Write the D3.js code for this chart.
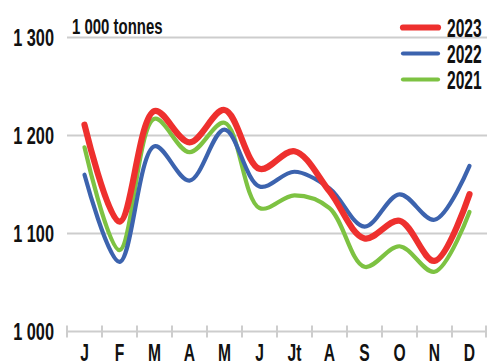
<!DOCTYPE html>
<html>
<head>
<meta charset="utf-8">
<script src="https://cdn.jsdelivr.net/npm/d3@7"></script>
<style>
  html, body { margin: 0; padding: 0; background: #fff; }
  svg { display: block; }
  text { font-family: "Liberation Sans", Arial, sans-serif; font-weight: bold; fill: #111; }
</style>
</head>
<body>
<svg id="chart" width="487" height="362"></svg>
<script>
// Monthly volumes, thousand tonnes
const months = ["J", "F", "M", "A", "M", "J", "Jt", "A", "S", "O", "N", "D"];
const yTicks = [1000, 1100, 1200, 1300];
const values2023 = [1211, 1112, 1225, 1193, 1226, 1166, 1184, 1143, 1095, 1113, 1072, 1140];
const values2022 = [1160, 1071, 1189, 1154, 1206, 1148, 1163, 1146, 1107, 1140, 1114, 1169];
const values2021 = [1188, 1083, 1217, 1183, 1213, 1126, 1139, 1126, 1066, 1087, 1061, 1122];
const seriesNames = ["2023", "2022", "2021"];

const series = [
  { name: seriesNames[2], values: values2021, color: "#7dc242", width: 4.2 },
  { name: seriesNames[1], values: values2022, color: "#3c63ae", width: 4.2 },
  { name: seriesNames[0], values: values2023, color: "#ee302e", width: 6.2 }
];

const svg = d3.select("#chart");
const left = 67, right = 487;

const x = d3.scaleBand().domain(d3.range(months.length)).range([left, right]).padding(0);
const y = d3.scaleLinear().domain([1000, 1300]).range([331.5, 37.5]);

// Condensed text: a regular face squeezed horizontally around its anchor
function condensed(sel, k) {
  return sel.attr("transform", d => `translate(${d.tx},${d.ty}) scale(${k},1)`);
}

// Horizontal grid lines
svg.append("g")
  .selectAll("line")
  .data(yTicks.filter(t => t > 1000))
  .join("line")
  .attr("x1", left).attr("x2", right)
  .attr("y1", d => y(d)).attr("y2", d => y(d))
  .attr("stroke", "#cdcdcd").attr("stroke-width", 2);

// Baseline axis with month separators
const base = y(1000);
svg.append("line")
  .attr("x1", left).attr("x2", right)
  .attr("y1", base).attr("y2", base)
  .attr("stroke", "#cdcdcd").attr("stroke-width", 2);
const edges = d3.range(months.length + 1).map(i => i < months.length ? x(i) : right - 1);
svg.append("g")
  .selectAll("line")
  .data(edges)
  .join("line")
  .attr("x1", d => d).attr("x2", d => d)
  .attr("y1", base - 6).attr("y2", base + 6)
  .attr("stroke", "#cdcdcd").attr("stroke-width", 2);

// Y labels
svg.append("g")
  .selectAll("text")
  .data(yTicks.map(v => ({ v, tx: 54, ty: y(v) + 8 })))
  .join("text")
  .call(condensed, 0.68)
  .attr("text-anchor", "end")
  .attr("font-size", 24)
  .text(d => d3.format(",")(d.v).replace(",", " "));

// Month labels
svg.append("g")
  .selectAll("text")
  .data(months.map((m, i) => ({ m, tx: x(i) + x.bandwidth() / 2, ty: 361 })))
  .join("text")
  .call(condensed, 0.68)
  .attr("text-anchor", "middle")
  .attr("font-size", 23)
  .text(d => d.m);

// Unit label
svg.append("g")
  .selectAll("text")
  .data([{ t: "1 000 tonnes", tx: 72, ty: 34 }])
  .join("text")
  .call(condensed, 0.68)
  .attr("font-size", 22)
  .text(d => d.t);

// Series lines
const line = d3.line()
  .x((d, i) => x(i) + x.bandwidth() / 2)
  .y(d => y(d))
  .curve(d3.curveCatmullRom.alpha(0.5));

svg.append("g")
  .selectAll("path")
  .data(series)
  .join("path")
  .attr("d", d => line(d.values))
  .attr("fill", "none")
  .attr("stroke", d => d.color)
  .attr("stroke-width", d => d.width)
  .attr("stroke-linecap", "round")
  .attr("stroke-linejoin", "round");

// Legend
const legendOrder = [series[2], series[1], series[0]];
const lg = svg.append("g");
legendOrder.forEach((s, i) => {
  const ly = 27.5 + i * 26;
  lg.append("line")
    .attr("x1", 403).attr("x2", 438)
    .attr("y1", ly).attr("y2", ly)
    .attr("stroke", s.color)
    .attr("stroke-width", s.width)
    .attr("stroke-linecap", "round");
  lg.selectAll(null)
    .data([{ t: s.name, tx: 447, ty: ly + 9.5 }])
    .join("text")
    .call(condensed, 0.6)
    .attr("font-size", 26)
    .text(d => d.t);
});
</script>
</body>
</html>
